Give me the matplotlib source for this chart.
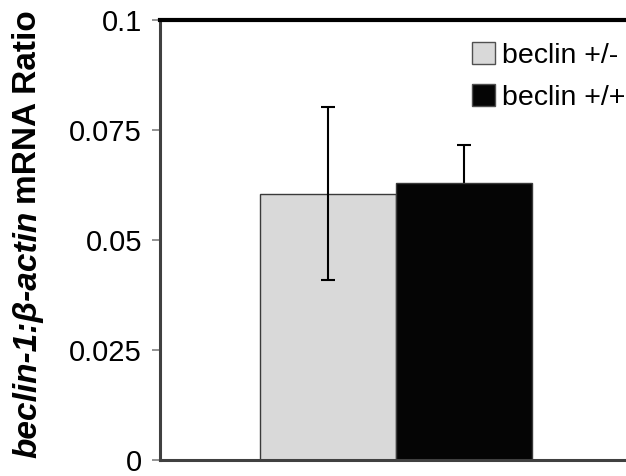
import matplotlib
matplotlib.use("Agg")
import matplotlib.pyplot as plt
from matplotlib.patches import Patch

series = ["beclin +/-", "beclin +/+"]
values = [0.0605, 0.0630]
errors = [0.0197, 0.0085]
colors = ["#d9d9d9", "#050505"]
yticks = [0, 0.025, 0.05, 0.075, 0.1]
yticklabels = ["0", "0.025", "0.05", "0.075", "0.1"]

plt.rcParams['font.family'] = ['Liberation Sans', 'DejaVu Sans']

W, H = 626, 476
fig = plt.figure(figsize=(W / 100, H / 100), dpi=100)
ax = fig.add_axes([160 / W, (H - 460) / H, (W - 160) / W + 0.05, 440 / H])

xpos = [-0.5, 0.5]
ax.bar(xpos, values, width=1.0, color=colors, edgecolor="#3a3a3a", linewidth=1.0, zorder=2)
err_z = [3, 1]
for x, v, e, z in zip(xpos, values, errors, err_z):
    ax.errorbar([x], [v], yerr=[e], fmt="none", ecolor="black", elinewidth=1.5,
                capsize=5, capthick=1.5, zorder=z)

ax.set_ylim(0, 0.1)
ax.set_xlim(-1.735, 1.69 + 0.05 * W / 136)
ax.set_yticks(yticks)
ax.set_yticklabels(yticklabels, fontsize=21)
ax.set_xticks([])
ax.tick_params(axis='y', direction='out', length=6, width=1.2, color='#808080', pad=7)

ax.spines['right'].set_visible(False)
ax.spines['top'].set_linewidth(3)
ax.spines['top'].set_color('black')
ax.spines['left'].set_linewidth(2.2)
ax.spines['left'].set_color('#404040')
ax.spines['bottom'].set_linewidth(2.2)
ax.spines['bottom'].set_color('#404040')

handles = [Patch(facecolor=c, edgecolor='#505050', linewidth=1) for c in colors]
leg = fig.legend(handles, series, loc='upper left', bbox_to_anchor=(472 / W, 1 - 42 / H),
                 frameon=False, fontsize=20.5, handlelength=0.8, handleheight=0.8,
                 handletextpad=0.25, labelspacing=0.55, borderaxespad=0, borderpad=0)

# y label in two styles
fig.canvas.draw()
r = fig.canvas.get_renderer()
x0 = 28 / W
t1 = fig.text(x0, (H - 458) / H, "beclin-1:\u03b2-actin", rotation=90, rotation_mode='anchor',
              ha='left', va='center', fontsize=24, fontweight='bold', fontstyle='italic')
bb = t1.get_window_extent(renderer=r)
t2 = fig.text(x0, (bb.y1 + 7) / H, "mRNA Ratio", rotation=90, rotation_mode='anchor',
              ha='left', va='center', fontsize=24, fontweight='bold')

fig.savefig("out.png", dpi=100)
